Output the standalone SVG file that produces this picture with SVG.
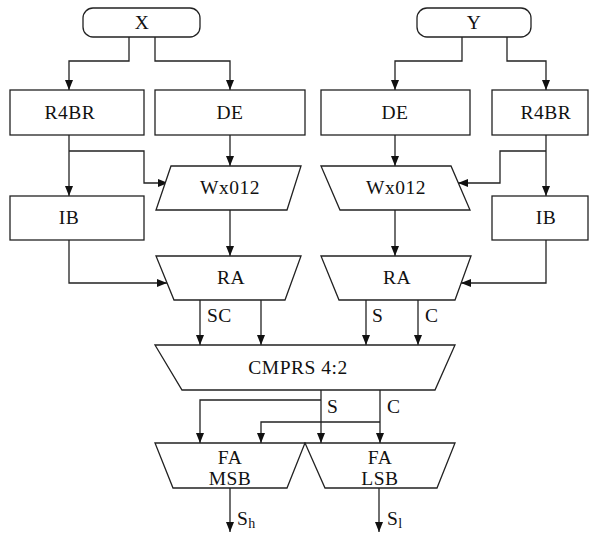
<svg xmlns="http://www.w3.org/2000/svg" width="598" height="535" viewBox="0 0 598 535">
  <style>
    .box { fill: #fff; stroke: #222; stroke-width: 1.3; }
    .lbl { font-family: "Liberation Serif", "Times New Roman", serif; font-size: 19.5px; letter-spacing: 0.5px; fill: #111; text-anchor: middle; }
    .tag { font-family: "Liberation Serif", "Times New Roman", serif; font-size: 19.5px; letter-spacing: 0.5px; fill: #111; }
    .sub { font-size: 14px; }
    .wire { fill: none; stroke: #222; stroke-width: 1.3; marker-end: url(#arr); }
  </style>
  <defs>
    <marker id="arr" viewBox="0 0 10 8" refX="10" refY="4" markerWidth="10" markerHeight="8" markerUnits="userSpaceOnUse" orient="auto">
      <path d="M0,0 L10,4 L0,8 Z" fill="#111"/>
    </marker>
  </defs>

  <rect width="598" height="535" fill="#fff"/>

  <!-- connectors -->
  <g id="connectors">
    <path class="wire" d="M129,37 V61 H69 V90"/>
    <path class="wire" d="M155,37 V61 H230 V90"/>
    <path class="wire" d="M462,37 V61 H395 V90"/>
    <path class="wire" d="M507,37 V61 H546 V90"/>
    <path class="wire" d="M69,135 V196"/>
    <path class="wire" d="M69,151 H144 V183 H168"/>
    <path class="wire" d="M546,135 V196"/>
    <path class="wire" d="M546,151 H500 V183 H458"/>
    <path class="wire" d="M230,135 V166"/>
    <path class="wire" d="M395,135 V166"/>
    <path class="wire" d="M230,210 V256"/>
    <path class="wire" d="M395,210 V256"/>
    <path class="wire" d="M69,240 V283 H167"/>
    <path class="wire" d="M546,240 V283 H461"/>
    <path class="wire" d="M200,300 V345"/>
    <path class="wire" d="M261,300 V345"/>
    <path class="wire" d="M366,300 V345"/>
    <path class="wire" d="M418,300 V345"/>
    <path class="wire" d="M321,390 V443"/>
    <path class="wire" d="M321,400 H200 V443"/>
    <path class="wire" d="M380,390 V443"/>
    <path class="wire" d="M380,422 H261 V443"/>
    <path class="wire" d="M230,488 V532"/>
    <path class="wire" d="M379,488 V532"/>
  </g>

  <!-- wire labels -->
  <g id="wire-labels">
    <text class="tag" x="207" y="322">SC</text>
    <text class="tag" x="372" y="322">S</text>
    <text class="tag" x="425" y="322">C</text>
    <text class="tag" x="327" y="413">S</text>
    <text class="tag" x="387" y="413">C</text>
    <text class="tag" x="237" y="525">S<tspan class="sub" dy="3">h</tspan></text>
    <text class="tag" x="387" y="525">S<tspan class="sub" dy="3">l</tspan></text>
  </g>

  <g id="x-in">
    <rect class="box" x="83" y="8" width="117" height="29" rx="10"/>
    <text class="lbl" x="142" y="29">X</text>
  </g>
  <g id="y-in">
    <rect class="box" x="417" y="8" width="114" height="29" rx="10"/>
    <text class="lbl" x="474" y="29">Y</text>
  </g>

  <g id="r4br-l">
    <rect class="box" x="10" y="90" width="134" height="45"/>
    <text class="lbl" x="70" y="119">R4BR</text>
  </g>
  <g id="de-l">
    <rect class="box" x="155" y="90" width="150" height="45"/>
    <text class="lbl" x="230" y="119">DE</text>
  </g>
  <g id="de-r">
    <rect class="box" x="321" y="90" width="149" height="45"/>
    <text class="lbl" x="395" y="119">DE</text>
  </g>
  <g id="r4br-r">
    <rect class="box" x="492" y="90" width="96" height="45"/>
    <text class="lbl" x="546" y="119">R4BR</text>
  </g>

  <g id="wx012-l">
    <polygon class="box" points="171,166 301,166 287,210 156,210"/>
    <text class="lbl" x="230" y="194">Wx012</text>
  </g>
  <g id="wx012-r">
    <polygon class="box" points="321,166 451,166 470,210 340,210"/>
    <text class="lbl" x="396" y="194">Wx012</text>
  </g>

  <g id="ib-l">
    <rect class="box" x="10" y="196" width="134" height="44"/>
    <text class="lbl" x="69" y="224">IB</text>
  </g>
  <g id="ib-r">
    <rect class="box" x="492" y="196" width="96" height="44"/>
    <text class="lbl" x="546" y="224">IB</text>
  </g>

  <g id="ra-l">
    <polygon class="box" points="156,256 301,256 285,300 174,300"/>
    <text class="lbl" x="231" y="284">RA</text>
  </g>
  <g id="ra-r">
    <polygon class="box" points="321,256 471,256 455,300 339,300"/>
    <text class="lbl" x="397" y="284">RA</text>
  </g>

  <g id="cmprs">
    <polygon class="box" points="155,345 455,345 435,390 182,390"/>
    <text class="lbl" x="298" y="374">CMPRS 4:2</text>
  </g>

  <g id="fa-msb">
    <polygon class="box" points="155,443 305,443 287,488 173,488"/>
    <text class="lbl" x="230" y="464">FA</text>
    <text class="lbl" x="230" y="485">MSB</text>
  </g>
  <g id="fa-lsb">
    <polygon class="box" points="305,443 455,443 437,488 325,488"/>
    <text class="lbl" x="380" y="464">FA</text>
    <text class="lbl" x="380" y="485">LSB</text>
  </g>
</svg>
